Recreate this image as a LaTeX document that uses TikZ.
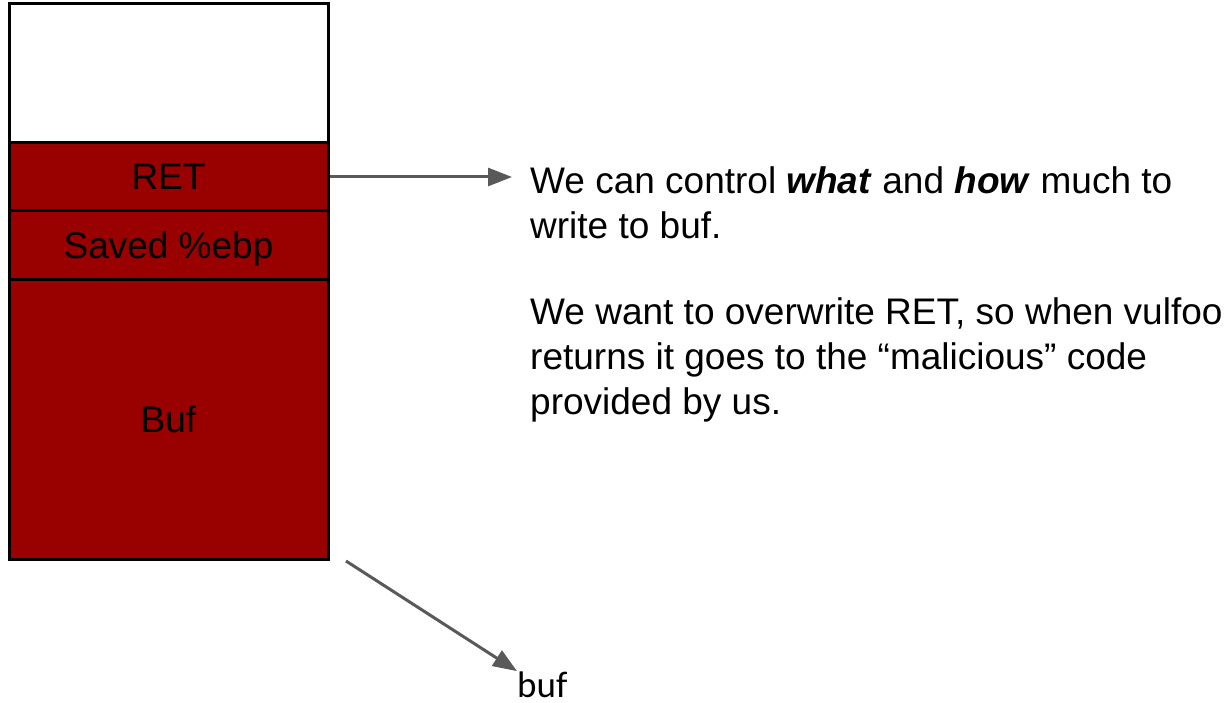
\documentclass[tikz,border=0pt]{standalone}
\usepackage{fontspec}
\setmainfont{Liberation Sans}
\newfontfamily\labelfont{Carlito}
\usetikzlibrary{arrows.meta}

\definecolor{stackred}{HTML}{990000}
\definecolor{arrowgray}{HTML}{595959}

\begin{document}
\begin{tikzpicture}[x=1pt, y=-1pt,
		cell/.style={draw=black, line width=3pt, minimum width=319pt, inner sep=0pt, text depth=0pt, font=\fontsize{37}{45}\selectfont},
		pointer/.style={draw=arrowgray, line width=3pt, -{Triangle[length=24pt, width=18pt]}},
		note/.style={anchor=base west, inner sep=0pt, align=left, font=\fontsize{37}{45}\selectfont}]
		\useasboundingbox (0,0) rectangle (1232,703);
		
		% Draw the stack frame, top to bottom
		\node[cell, fill=white, minimum height=139pt] (top) at (168.5,73.5) {};
		\node[cell, fill=stackred, minimum height=68pt] (ret) at (168.5,177) {RET};
		\node[cell, fill=stackred, minimum height=69pt] (saved) at (168.5,245.5) {Saved \%ebp};
		\node[cell, fill=stackred, minimum height=279pt] (buf) at (168.5,419.5) {Buf};
		
		% Explanation on the right (base = last line)
		\node[note] (ctrl) at (530,239) {We can control \textbf{\textit{what}} and \textbf{\textit{how}} much to\\write to buf.};
		\node[note] (goal) at (530,414) {We want to overwrite RET, so when vulfoo\\returns it goes to the ``malicious'' code\\provided by us.};
		
		% Label for the start of the buffer
		\node[anchor=base west, inner sep=0pt, font=\labelfont\fontsize{37}{45}\selectfont] (buflbl) at (517,697) {buf};
		\coordinate (buftail) at (346,561);
		
		% Arrows
		\draw[pointer, shorten >=18pt] (ret.east) -- (ret.east -| ctrl.west);
		\draw[pointer] (buftail) -- (buflbl.north west);
		
	\end{tikzpicture}
\end{document}
